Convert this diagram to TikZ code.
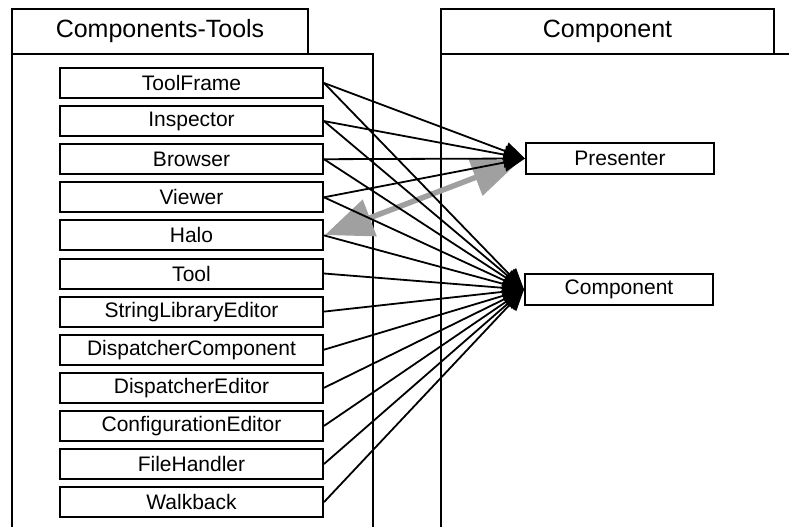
\documentclass[tikz,border=0pt]{standalone}
\usepackage{fontspec}
\setmainfont{Liberation Sans}
\usetikzlibrary{arrows.meta}
\begin{document}
\begin{tikzpicture}[x=1pt,y=-1pt,
  frameline/.style={line width=2pt},
  tabtext/.style={font=\fontsize{25}{30}\selectfont},
  cls/.style={draw,line width=2pt,minimum width=263pt,minimum height=30pt,inner sep=0pt,font=\fontsize{21}{25}\selectfont},
  target/.style={draw,line width=2pt,minimum width=188pt,minimum height=31pt,inner sep=0pt,font=\fontsize{21}{25}\selectfont},
  dep/.style={line width=1.8pt,-{Triangle[length=21pt,width=18pt]}},
  assoc/.style={line width=5.5pt,draw={rgb,255:red,160;green,160;blue,160},{Triangle[length=48pt,width=38pt]}-{Triangle[length=48pt,width=38pt]}}]
\useasboundingbox (0,0) rectangle (789,527);
% package frames
\node[draw,frameline,minimum width=296pt,minimum height=45pt,inner sep=0pt,tabtext] (tabL) at (160,31.5) {Components-Tools};
\coordinate (pLtl) at (12,54);
\coordinate (pLtr) at (373,54);
\coordinate (pLbl) at (12,527);
\coordinate (pLbr) at (373,527);
\draw[frameline] (pLbl) -- (pLtl) -- (pLtr) -- (pLbr);
\node[draw,frameline,minimum width=333pt,minimum height=45pt,inner sep=0pt,tabtext] (tabR) at (607.5,31.5) {Component};
\coordinate (pRtl) at (441,54);
\coordinate (pRtr) at (789,54);
\coordinate (pRbl) at (441,527);
\draw[frameline] (pRbl) -- (pRtl) -- (pRtr);
% classes
\foreach \n/\t [count=\i from 0] in {c0/ToolFrame,c1/Inspector,c2/Browser,c3/Viewer,c4/Halo,c5/Tool,c6/StringLibraryEditor,c7/DispatcherComponent,c8/DispatcherEditor,c9/ConfigurationEditor,c10/FileHandler,c11/Walkback}
  \node[cls] (\n) at (191.5,{83+\i*38.1}) {\t};
\node[target] (pres) at (620,158.5) {Presenter};
\node[target] (comp) at (619,289.5) {Component};
% association
\draw[assoc,shorten >=5pt,shorten <=1pt] (c4.east) -- (pres.west);
% dependencies
\foreach \n in {c0,c1,c2,c3}
  \draw[dep] (\n.east) -- (pres.west);
\foreach \n in {c0,c1,c2,c3,c4,c5,c6,c7,c8,c9,c10,c11}
  \draw[dep] (\n.east) -- (comp.west);
\end{tikzpicture}
\end{document}
